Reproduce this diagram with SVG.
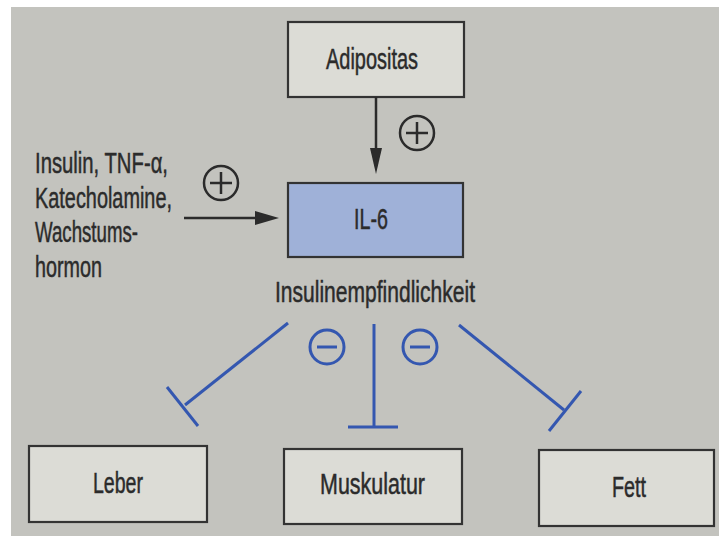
<svg xmlns="http://www.w3.org/2000/svg" width="719" height="536" viewBox="0 0 719 536">
<defs>
<style>
.box{fill:#dcdcd6;stroke:#333;stroke-width:2.2}
.il{fill:#9fb1d8;stroke:#333;stroke-width:2.2}
.t{font-family:"Liberation Sans Narrow","Liberation Sans",Arial,sans-serif;font-size:30px;fill:#2b2b2b;stroke:#2b2b2b;stroke-width:0.5}
.c{text-anchor:middle}
.blk{stroke:#2b2b2b;stroke-width:2.5;fill:none}
.blue{stroke:#3457b0;stroke-width:3;fill:none}
</style>
</defs>
<rect x="0" y="0" width="719" height="536" fill="#ffffff"/>
<rect x="11" y="7" width="708" height="529" fill="#c3c3be"/>

<g id="adipositas">
<rect class="box" x="288" y="22" width="176" height="75"/>
<text class="t c" x="372" y="69" textLength="92" lengthAdjust="spacingAndGlyphs">Adipositas</text>
</g>
<g id="il6">
<rect class="il" x="288" y="183" width="175" height="74"/>
<text class="t c" x="371" y="229" font-size="27" textLength="34" lengthAdjust="spacingAndGlyphs">IL-6</text>
</g>
<g id="stimuli">
<text class="t" x="35" y="173" textLength="133" lengthAdjust="spacingAndGlyphs">Insulin, TNF-α,</text>
<text class="t" x="35" y="208" textLength="137" lengthAdjust="spacingAndGlyphs">Katecholamine,</text>
<text class="t" x="35" y="242" textLength="103" lengthAdjust="spacingAndGlyphs">Wachstums-</text>
<text class="t" x="35" y="277" textLength="67" lengthAdjust="spacingAndGlyphs">hormon</text>
</g>
<g id="insulinempfindlichkeit">
<text class="t c" x="375" y="302" textLength="200" lengthAdjust="spacingAndGlyphs">Insulinempfindlichkeit</text>
</g>
<g id="leber">
<rect class="box" x="29" y="446" width="178" height="76"/>
<text class="t c" x="118" y="493" textLength="50" lengthAdjust="spacingAndGlyphs">Leber</text>
</g>
<g id="muskulatur">
<rect class="box" x="284" y="449" width="178" height="75"/>
<text class="t c" x="372.5" y="494" textLength="105" lengthAdjust="spacingAndGlyphs">Muskulatur</text>
</g>
<g id="fett">
<rect class="box" x="539" y="450" width="175" height="76"/>
<text class="t c" x="629" y="497" textLength="34" lengthAdjust="spacingAndGlyphs">Fett</text>
</g>

<g id="connectors">
<line class="blk" x1="376" y1="97" x2="376" y2="160"/>
<path d="M370,148 L382,148 L376,174 z" fill="#2b2b2b"/>
<circle class="blk" cx="417" cy="133" r="17"/>
<line class="blk" x1="406" y1="133" x2="428" y2="133"/>
<line class="blk" x1="417" y1="122" x2="417" y2="144"/>

<line class="blk" x1="184" y1="218" x2="256" y2="218"/>
<path d="M255,211 L279,218 L255,225 z" fill="#2b2b2b"/>
<circle class="blk" cx="221" cy="183" r="17"/>
<line class="blk" x1="210" y1="183" x2="232" y2="183"/>
<line class="blk" x1="221" y1="172" x2="221" y2="194"/>

<line class="blue" x1="288" y1="323" x2="185" y2="405"/>
<line class="blue" x1="167" y1="387" x2="198" y2="426"/>
<line class="blue" x1="374" y1="324" x2="374" y2="427"/>
<line class="blue" x1="348" y1="427" x2="398" y2="427"/>
<line class="blue" x1="459" y1="325" x2="564" y2="410"/>
<line class="blue" x1="549" y1="431" x2="581" y2="391"/>
<circle class="blue" cx="327" cy="347" r="17" stroke-width="2.8"/>
<line class="blue" x1="317" y1="347" x2="337" y2="347"/>
<circle class="blue" cx="420" cy="347" r="17" stroke-width="2.8"/>
<line class="blue" x1="410" y1="347" x2="430" y2="347"/>
</g>
</svg>
